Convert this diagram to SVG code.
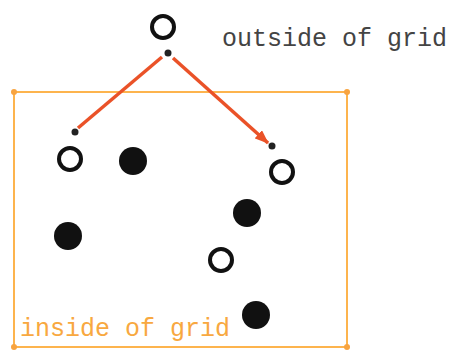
<svg xmlns="http://www.w3.org/2000/svg" width="450" height="350" viewBox="0 0 450 350">
<style>
.hollow{fill:#fff;stroke:#111;stroke-width:4}
.filled{fill:#111}
.dot{fill:#222}
.grid{fill:none;stroke:#fdb44e;stroke-width:2}
.corner{fill:#f8a440}
.edge{stroke:#ea5228;stroke-width:3.5;fill:none}
.lbl{font-family:"Liberation Mono","Courier New",monospace;font-size:25px}
</style>
<defs>
<marker id="arr" markerWidth="14" markerHeight="11" refX="13" refY="5.5" orient="auto" markerUnits="userSpaceOnUse" viewBox="0 0 14 11">
<path d="M0,0 L14,5.5 L0,11 z" fill="#ea5228"/>
</marker>
</defs>
<g id="grid">
<rect class="grid" x="14" y="92" width="333" height="255"/>
<circle class="corner" cx="14" cy="92" r="3"/>
<circle class="corner" cx="347" cy="92" r="3"/>
<circle class="corner" cx="14" cy="347" r="3"/>
<circle class="corner" cx="347" cy="347" r="3"/>
<text class="lbl" x="20" y="336" fill="#f8a840">inside of grid</text>
</g>
<g id="connectors">
<line class="edge" x1="162" y1="57" x2="78" y2="128"/>
<line class="edge" x1="173" y1="58" x2="268" y2="143" marker-end="url(#arr)"/>
</g>
<g id="outside">
<circle class="hollow" cx="163" cy="27" r="11"/>
<circle class="dot" cx="168" cy="53" r="3.5"/>
<text class="lbl" x="222" y="46" fill="#444">outside of grid</text>
</g>
<g id="p1"><circle class="dot" cx="75" cy="132" r="3.5"/><circle class="hollow" cx="70" cy="159" r="11"/></g>
<g id="p2"><circle class="filled" cx="133" cy="161" r="14"/></g>
<g id="p3"><circle class="dot" cx="272" cy="146" r="3.5"/><circle class="hollow" cx="282" cy="172" r="11"/></g>
<g id="p4"><circle class="filled" cx="247" cy="213" r="14"/></g>
<g id="p5"><circle class="filled" cx="68" cy="236" r="14"/></g>
<g id="p6"><circle class="hollow" cx="221" cy="260" r="11"/></g>
<g id="p7"><circle class="filled" cx="256" cy="315" r="14"/></g>
</svg>
